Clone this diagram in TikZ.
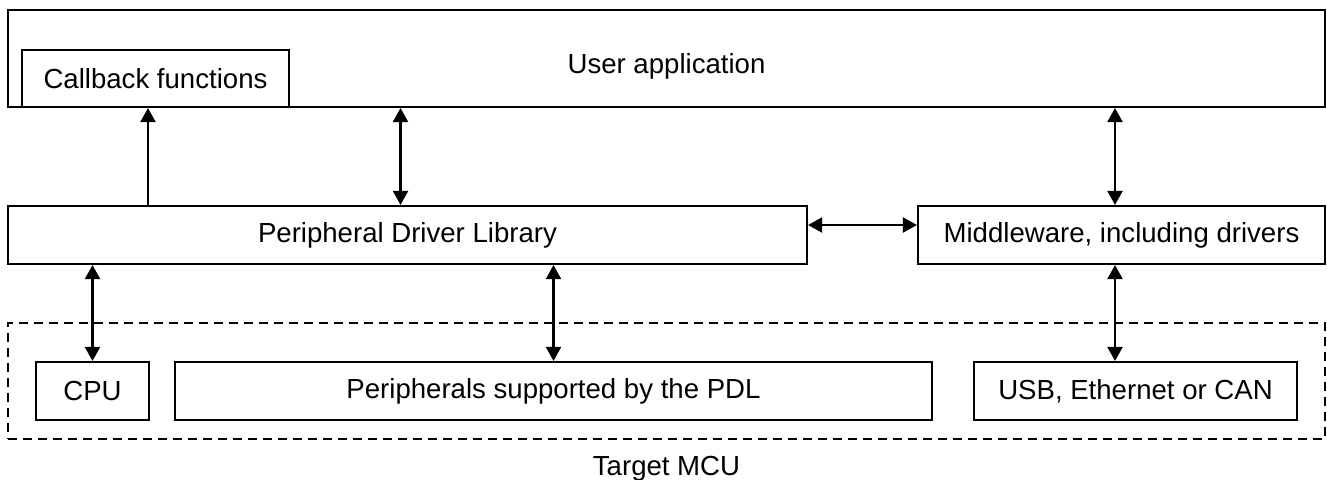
\documentclass[tikz,border=0pt]{standalone}
\usepackage{fontspec}
\setmainfont{Liberation Sans}
\usetikzlibrary{arrows.meta, positioning, calc}

\begin{document}
\begin{tikzpicture}[
  box/.style={draw, line width=1.2pt, inner sep=0pt, minimum height=1.16cm, align=center, font=\fontsize{15.7}{19}\selectfont},
  arr/.style={-{Triangle[length=0.28cm, width=0.3cm]}, line width=1.2pt},
  dbl/.style={{Triangle[length=0.28cm, width=0.3cm]}-{Triangle[length=0.28cm, width=0.3cm]}, line width=1.2pt},
  lbl/.style={font=\fontsize{15.7}{19}\selectfont, inner sep=0pt},
]
\useasboundingbox (0, 0) rectangle (26.54, -9.58);

\node[box, minimum width=26.34cm, minimum height=1.94cm, text height=0.72cm, text depth=0.12cm] (app) at (13.33, -1.17) {User application};
\node[box, fill=white, minimum width=5.34cm, minimum height=1.14cm] (callback) at (3.11, -1.57) {Callback functions};
\node[box, minimum width=15.98cm] (pdl) at (8.15, -4.70) {Peripheral Driver Library};
\node[box, minimum width=8.14cm] (mw) at (22.43, -4.70) {Middleware, including drivers};

\node[draw, line width=1.2pt, dash pattern=on 0.18cm off 0.12cm, inner sep=0pt, minimum width=26.34cm, minimum height=2.32cm] (mcu) at (13.33, -7.62) {};
\node[box, minimum width=2.26cm] (cpu) at (1.85, -7.82) {CPU};
\node[box, minimum width=15.14cm] (periph) at (11.07, -7.82) {Peripherals supported by the PDL};
\node[box, minimum width=6.46cm] (usb) at (22.71, -7.82) {USB, Ethernet or CAN};
\node[lbl] (mculbl) at (13.33, -9.37) {Target MCU};

\draw[arr] ([xshift=-0.15cm]pdl.north -| callback.south) -- ([xshift=-0.15cm]callback.south);
\draw[dbl] ([xshift=-0.14cm]pdl.north |- app.south) -- ([xshift=-0.14cm]pdl.north);
\draw[dbl] ([xshift=-0.13cm]mw.north |- app.south) -- ([xshift=-0.13cm]mw.north);
\draw[dbl] ([yshift=0.2cm]pdl.east) -- ([yshift=0.2cm]mw.west);
\draw[dbl] (cpu.north |- pdl.south) -- (cpu.north);
\draw[dbl] (periph.north |- pdl.south) -- (periph.north);
\draw[dbl] ([xshift=-0.13cm]mw.south) -- ([xshift=-0.13cm]mw.south |- usb.north);

\end{tikzpicture}
\end{document}
